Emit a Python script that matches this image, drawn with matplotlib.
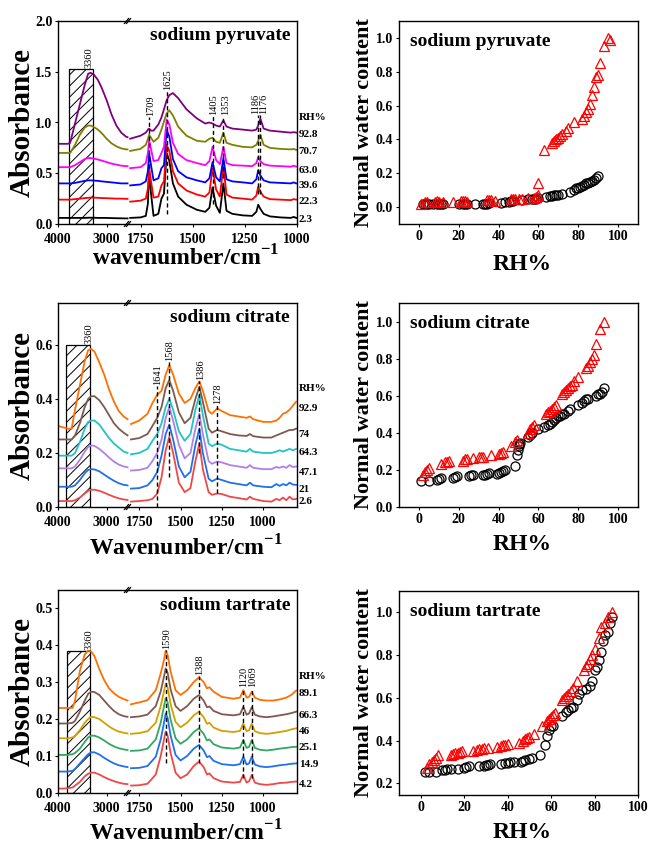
import numpy as np
import matplotlib.pyplot as plt
from matplotlib.patches import Rectangle
from matplotlib.ticker import FormatStrFormatter

plt.rcParams['font.family'] = ['Liberation Serif', 'DejaVu Serif']
plt.rcParams['font.weight'] = 'bold'
plt.rcParams['mathtext.fontset'] = 'custom'
plt.rcParams['mathtext.rm'] = 'Liberation Serif:bold'
plt.rcParams['mathtext.bf'] = 'Liberation Serif:bold'
plt.rcParams['hatch.linewidth'] = 0.7

W, H = 649, 847

# ---------------- sodium pyruvate spectra ----------------
pyr_rh = ['2.3', '22.3', '39.6', '63.0', '70.7', '92.8']
pyr_colors = ['#000000', '#ff0000', '#0000ff', '#ff00ff', '#808000', '#800080']
pyr_wn_left = [4000, 3900, 3800, 3750, 3650, 3550, 3450, 3380, 3330, 3260, 3180, 3100, 3000, 2900, 2800, 2700, 2600, 2570]
pyr_abs_left = [
    [0.06, 0.06, 0.06, 0.06, 0.06, 0.06, 0.06, 0.062, 0.062, 0.062, 0.06, 0.06, 0.06, 0.058, 0.057, 0.056, 0.055, 0.055],
    [0.24, 0.24, 0.24, 0.24, 0.245, 0.25, 0.255, 0.258, 0.26, 0.26, 0.258, 0.256, 0.254, 0.252, 0.25, 0.25, 0.248, 0.248],
    [0.40, 0.40, 0.40, 0.40, 0.405, 0.415, 0.425, 0.43, 0.43, 0.428, 0.425, 0.42, 0.415, 0.41, 0.405, 0.40, 0.40, 0.40],
    [0.56, 0.56, 0.56, 0.56, 0.58, 0.61, 0.64, 0.65, 0.65, 0.645, 0.635, 0.625, 0.61, 0.595, 0.585, 0.575, 0.57, 0.57],
    [0.70, 0.70, 0.70, 0.70, 0.78, 0.88, 0.95, 0.97, 0.97, 0.955, 0.93, 0.895, 0.84, 0.795, 0.765, 0.745, 0.735, 0.735],
    [0.79, 0.79, 0.79, 0.80, 0.99, 1.18, 1.37, 1.48, 1.49, 1.47, 1.42, 1.34, 1.22, 1.08, 0.97, 0.90, 0.86, 0.855],
]
pyr_wn_right = [1800, 1750, 1725, 1715, 1709, 1700, 1688, 1665, 1650, 1638, 1625, 1612, 1595, 1570, 1530, 1480,
                1440, 1420, 1405, 1388, 1370, 1353, 1338, 1310, 1260, 1215, 1195, 1186, 1176, 1160, 1130, 1080,
                1030, 1015, 1005, 1000]
pyr_abs_right = [
    [0.06, 0.065, 0.08, 0.20, 0.52, 0.30, 0.08, 0.10, 0.25, 0.30, 0.70, 0.62, 0.40, 0.27, 0.19, 0.14,
     0.12, 0.16, 0.36, 0.18, 0.11, 0.40, 0.13, 0.10, 0.085, 0.08, 0.12, 0.19, 0.15, 0.10, 0.075, 0.065,
     0.06, 0.07, 0.06, 0.06],
    [0.22, 0.23, 0.25, 0.35, 0.56, 0.42, 0.26, 0.27, 0.38, 0.42, 0.78, 0.72, 0.52, 0.40, 0.33, 0.29,
     0.27, 0.31, 0.55, 0.34, 0.27, 0.57, 0.29, 0.26, 0.25, 0.24, 0.28, 0.37, 0.32, 0.27, 0.245, 0.24,
     0.235, 0.245, 0.24, 0.24],
    [0.38, 0.39, 0.42, 0.52, 0.70, 0.58, 0.43, 0.45, 0.55, 0.58, 0.93, 0.86, 0.64, 0.52, 0.46, 0.43,
     0.41, 0.45, 0.61, 0.46, 0.42, 0.65, 0.44, 0.42, 0.41, 0.40, 0.44, 0.53, 0.48, 0.43, 0.41, 0.405,
     0.40, 0.41, 0.40, 0.40],
    [0.55, 0.56, 0.60, 0.70, 0.83, 0.74, 0.62, 0.63, 0.70, 0.76, 1.03, 0.98, 0.80, 0.69, 0.63, 0.60,
     0.58, 0.62, 0.76, 0.63, 0.59, 0.76, 0.60, 0.58, 0.575, 0.57, 0.60, 0.66, 0.62, 0.59, 0.575, 0.57,
     0.565, 0.575, 0.565, 0.565],
    [0.72, 0.74, 0.78, 0.84, 0.88, 0.85, 0.81, 0.85, 0.93, 1.01, 1.09, 1.12, 1.07, 0.96, 0.87, 0.82,
     0.81, 0.84, 0.85, 0.81, 0.80, 0.90, 0.80, 0.78, 0.76, 0.755, 0.78, 0.82, 0.88, 0.78, 0.75, 0.74,
     0.735, 0.74, 0.73, 0.73],
    [0.84, 0.87, 0.90, 0.93, 0.94, 0.92, 0.92, 0.98, 1.05, 1.13, 1.22, 1.27, 1.29, 1.24, 1.13, 1.04,
     0.99, 1.00, 0.99, 0.97, 0.96, 1.02, 0.96, 0.94, 0.93, 0.92, 0.93, 0.97, 1.04, 0.94, 0.92, 0.91,
     0.90, 0.905, 0.90, 0.90],
]
pyr_rh_y = [0.046, 0.22, 0.384, 0.53, 0.71, 0.877]
pyr_peaks = [1709, 1625, 1405, 1353, 1186, 1176]
pyr_peak_text_x = [1700, 1618, 1400, 1343, 1200, 1162]
pyr_peak_top = [1.06, 1.32, 1.07, 1.07, 1.08, 1.08]
pyr_peak_bottom = [0.55, 0.10, 0.20, 0.45, 0.30, 0.30]

# ---------------- sodium citrate spectra ----------------
cit_rh = ['2.6', '21', '47.1', '64.3', '74', '92.9']
cit_colors = ['#f04848', '#2070e8', '#b080e8', '#20c4c4', '#7d5a50', '#ff7000']
cit_wn_left = [4000, 3900, 3800, 3720, 3650, 3550, 3450, 3380, 3320, 3250, 3150, 3050, 2950, 2850, 2750, 2650, 2570]
cit_abs_left = [
    [0.022, 0.022, 0.022, 0.022, 0.025, 0.035, 0.05, 0.06, 0.064, 0.064, 0.06, 0.053, 0.045, 0.038, 0.032, 0.028, 0.026],
    [0.075, 0.075, 0.075, 0.075, 0.08, 0.10, 0.125, 0.137, 0.14, 0.139, 0.132, 0.12, 0.108, 0.097, 0.088, 0.082, 0.08],
    [0.143, 0.143, 0.143, 0.143, 0.15, 0.175, 0.205, 0.222, 0.228, 0.226, 0.215, 0.20, 0.183, 0.168, 0.157, 0.15, 0.147],
    [0.19, 0.19, 0.19, 0.19, 0.20, 0.24, 0.29, 0.315, 0.32, 0.32, 0.305, 0.28, 0.255, 0.235, 0.22, 0.205, 0.20],
    [0.25, 0.25, 0.25, 0.25, 0.265, 0.31, 0.37, 0.40, 0.41, 0.41, 0.395, 0.37, 0.34, 0.31, 0.29, 0.275, 0.265],
    [0.30, 0.295, 0.29, 0.29, 0.36, 0.45, 0.54, 0.58, 0.585, 0.575, 0.535, 0.49, 0.435, 0.39, 0.355, 0.335, 0.325],
]
cit_wn_right = [1800, 1750, 1700, 1670, 1641, 1615, 1590, 1568, 1545, 1510, 1475, 1440, 1410, 1386, 1365, 1330,
                1310, 1278, 1250, 1200, 1150, 1100, 1080, 1060, 1000, 950, 920, 900, 880, 860, 840, 820, 800]
cit_abs_right = [
    [0.02, 0.022, 0.025, 0.03, 0.05, 0.11, 0.21, 0.26, 0.20, 0.09, 0.055, 0.07, 0.17, 0.236, 0.14, 0.055,
     0.045, 0.05, 0.048, 0.038, 0.033, 0.028, 0.038, 0.03, 0.022, 0.02, 0.03, 0.025, 0.035, 0.025, 0.038, 0.028, 0.03],
    [0.068, 0.07, 0.08, 0.10, 0.13, 0.19, 0.27, 0.305, 0.25, 0.15, 0.11, 0.13, 0.23, 0.29, 0.20, 0.105,
     0.095, 0.105, 0.10, 0.09, 0.085, 0.08, 0.09, 0.08, 0.075, 0.073, 0.085, 0.078, 0.085, 0.08, 0.09, 0.083, 0.082],
    [0.135, 0.137, 0.145, 0.17, 0.20, 0.25, 0.33, 0.37, 0.32, 0.23, 0.18, 0.20, 0.29, 0.345, 0.27, 0.17,
     0.16, 0.168, 0.165, 0.155, 0.15, 0.145, 0.155, 0.145, 0.14, 0.14, 0.148, 0.145, 0.15, 0.145, 0.155, 0.148, 0.15],
    [0.195, 0.20, 0.215, 0.245, 0.27, 0.31, 0.37, 0.40, 0.36, 0.28, 0.245, 0.27, 0.36, 0.415, 0.34, 0.235,
     0.225, 0.235, 0.23, 0.215, 0.21, 0.205, 0.215, 0.205, 0.20, 0.20, 0.205, 0.21, 0.205, 0.21, 0.215, 0.21, 0.215],
    [0.25, 0.255, 0.27, 0.30, 0.33, 0.37, 0.44, 0.47, 0.43, 0.35, 0.31, 0.33, 0.40, 0.445, 0.39, 0.29,
     0.275, 0.285, 0.28, 0.27, 0.265, 0.263, 0.27, 0.262, 0.257, 0.257, 0.265, 0.27, 0.275, 0.28, 0.285, 0.285, 0.29],
    [0.307, 0.32, 0.345, 0.385, 0.415, 0.43, 0.49, 0.525, 0.49, 0.42, 0.385, 0.40, 0.44, 0.465, 0.43, 0.355,
     0.345, 0.365, 0.355, 0.34, 0.335, 0.33, 0.335, 0.325, 0.315, 0.315, 0.32, 0.33, 0.345, 0.35, 0.36, 0.375, 0.39],
]
cit_rh_y = [0.02, 0.065, 0.127, 0.20, 0.27, 0.365]
cit_peaks = [1641, 1568, 1386, 1278]
cit_peak_text_x = [1636, 1563, 1381, 1273]
cit_peak_top = [0.45, 0.54, 0.47, 0.38]
cit_peak_bottom = [0.0, 0.11, 0.20, 0.05]

# ---------------- sodium tartrate spectra ----------------
tar_rh = ['4.2', '14.9', '25.1', '46', '66.3', '89.1']
tar_colors = ['#f04848', '#2070f0', '#30a860', '#d4a000', '#805850', '#ff7000']
tar_wn_left = [4000, 3900, 3800, 3700, 3650, 3550, 3450, 3380, 3320, 3250, 3150, 3050, 2950, 2850, 2750, 2650, 2570]
tar_abs_left = [
    [0.012, 0.012, 0.013, 0.015, 0.02, 0.03, 0.045, 0.052, 0.055, 0.055, 0.05, 0.043, 0.037, 0.032, 0.028, 0.025, 0.024],
    [0.058, 0.058, 0.058, 0.06, 0.065, 0.08, 0.095, 0.105, 0.11, 0.11, 0.104, 0.095, 0.087, 0.08, 0.075, 0.072, 0.07],
    [0.103, 0.103, 0.103, 0.105, 0.108, 0.12, 0.138, 0.15, 0.155, 0.155, 0.15, 0.142, 0.133, 0.126, 0.121, 0.118, 0.116],
    [0.148, 0.148, 0.148, 0.15, 0.155, 0.17, 0.19, 0.20, 0.206, 0.205, 0.20, 0.19, 0.18, 0.172, 0.166, 0.163, 0.161],
    [0.188, 0.188, 0.188, 0.19, 0.195, 0.22, 0.25, 0.268, 0.274, 0.273, 0.265, 0.25, 0.235, 0.222, 0.213, 0.208, 0.206],
    [0.23, 0.23, 0.23, 0.23, 0.25, 0.33, 0.375, 0.385, 0.383, 0.37, 0.335, 0.305, 0.283, 0.27, 0.26, 0.254, 0.25],
]
tar_wn_right = [1800, 1750, 1700, 1650, 1620, 1600, 1590, 1578, 1560, 1530, 1500, 1460, 1420, 1388, 1360, 1340,
                1325, 1300, 1250, 1180, 1140, 1120, 1100, 1085, 1069, 1050, 1020, 980, 940, 900, 860, 830, 800]
tar_abs_right = [
    [0.02, 0.021, 0.025, 0.05, 0.10, 0.145, 0.166, 0.155, 0.108, 0.055, 0.04, 0.05, 0.073, 0.085, 0.07, 0.05,
     0.053, 0.04, 0.031, 0.028, 0.03, 0.049, 0.028, 0.032, 0.049, 0.028, 0.024, 0.022, 0.024, 0.027, 0.028, 0.03, 0.031],
    [0.067, 0.068, 0.073, 0.098, 0.145, 0.19, 0.215, 0.203, 0.155, 0.103, 0.088, 0.10, 0.12, 0.13, 0.115, 0.097,
     0.10, 0.087, 0.078, 0.075, 0.078, 0.098, 0.077, 0.08, 0.098, 0.077, 0.072, 0.07, 0.072, 0.075, 0.077, 0.079, 0.08],
    [0.114, 0.115, 0.12, 0.145, 0.19, 0.235, 0.256, 0.245, 0.198, 0.148, 0.133, 0.145, 0.165, 0.175, 0.16, 0.142,
     0.145, 0.132, 0.123, 0.12, 0.123, 0.143, 0.122, 0.125, 0.143, 0.122, 0.117, 0.115, 0.117, 0.12, 0.122, 0.124, 0.125],
    [0.16, 0.162, 0.167, 0.19, 0.235, 0.275, 0.296, 0.285, 0.24, 0.192, 0.178, 0.19, 0.21, 0.22, 0.205, 0.187,
     0.19, 0.177, 0.168, 0.165, 0.168, 0.188, 0.167, 0.17, 0.188, 0.167, 0.162, 0.16, 0.162, 0.165, 0.168, 0.172, 0.175],
    [0.205, 0.207, 0.212, 0.235, 0.275, 0.315, 0.337, 0.325, 0.28, 0.235, 0.222, 0.235, 0.255, 0.265, 0.25, 0.232,
     0.234, 0.222, 0.213, 0.21, 0.213, 0.233, 0.212, 0.215, 0.232, 0.212, 0.207, 0.205, 0.207, 0.21, 0.213, 0.216, 0.22],
    [0.24, 0.245, 0.251, 0.278, 0.323, 0.36, 0.385, 0.373, 0.328, 0.278, 0.265, 0.278, 0.30, 0.313, 0.30, 0.283,
     0.286, 0.274, 0.26, 0.255, 0.258, 0.278, 0.258, 0.26, 0.274, 0.258, 0.252, 0.25, 0.25, 0.253, 0.258, 0.265, 0.277],
]
tar_rh_y = [0.024, 0.076, 0.123, 0.166, 0.21, 0.27]
tar_peaks = [1590, 1388, 1120, 1069]
tar_peak_text_x = [1585, 1383, 1115, 1064]
tar_peak_top = [0.39, 0.32, 0.287, 0.287]
tar_peak_bottom = [0.08, 0.08, 0.04, 0.04]

# ---------------- normal water content vs RH ----------------
pyr_tri_rh = [1, 3, 4, 8, 9, 10, 12, 17, 21, 22, 23, 24, 34, 35, 36, 38, 46, 47, 48, 50, 52, 55, 58, 59, 60, 60,
              63, 67, 68, 69, 70, 71, 72, 74, 75, 78, 82, 83, 84, 85, 86, 87, 88, 89, 90, 91, 93, 95, 96]
pyr_tri_w = [0.02, 0.03, 0.03, 0.03, 0.035, 0.03, 0.03, 0.03, 0.035, 0.035, 0.035, 0.03, 0.04, 0.04, 0.04, 0.035,
             0.05, 0.05, 0.045, 0.05, 0.05, 0.055, 0.055, 0.06, 0.07, 0.14,
             0.34, 0.38, 0.39, 0.40, 0.41, 0.42, 0.43, 0.45, 0.47, 0.50, 0.52, 0.54, 0.56, 0.58, 0.61, 0.66,
             0.71, 0.77, 0.78, 0.85, 0.95, 1.0, 0.99]
pyr_cir_rh = [2, 3, 4, 5, 7, 9, 10, 11, 12, 20, 22, 23, 24, 28, 32, 33, 34, 35, 41, 43, 45, 46, 47, 52, 55, 57,
              58, 59, 60, 64, 66, 67, 68, 69, 70, 72, 76, 78, 79, 80, 81, 82, 83, 84, 85, 86, 87, 88, 89, 90]
pyr_cir_w = [0.02, 0.02, 0.02, 0.02, 0.02, 0.02, 0.02, 0.02, 0.02, 0.02, 0.02, 0.02, 0.02, 0.02, 0.02, 0.02,
             0.02, 0.025, 0.025, 0.03, 0.03, 0.035, 0.035, 0.04, 0.045, 0.05, 0.05, 0.05, 0.055, 0.06, 0.065,
             0.065, 0.07, 0.07, 0.07, 0.075, 0.09, 0.10, 0.11, 0.115, 0.12, 0.125, 0.13, 0.14, 0.145, 0.15,
             0.155, 0.16, 0.17, 0.185]

cit_tri_rh = [2, 3, 4, 5, 11, 13, 14, 15, 22, 23, 24, 27, 30, 31, 32, 36, 40, 41, 42, 46, 48, 49, 55, 56, 57,
              58, 64, 65, 66, 67, 68, 69, 72, 73, 74, 75, 76, 77, 78, 80, 84, 85, 86, 87, 88, 89, 91, 93]
cit_tri_w = [0.17, 0.19, 0.20, 0.21, 0.23, 0.24, 0.245, 0.25, 0.25, 0.26, 0.26, 0.265, 0.27, 0.27, 0.27, 0.28,
             0.285, 0.29, 0.295, 0.33, 0.35, 0.36, 0.40, 0.42, 0.43, 0.44, 0.50, 0.51, 0.52, 0.53, 0.54, 0.55,
             0.61, 0.62, 0.63, 0.64, 0.65, 0.66, 0.68, 0.70, 0.75, 0.76, 0.78, 0.80, 0.82, 0.88, 0.96, 1.0]
cit_cir_rh = [1, 5, 9, 10, 11, 17, 18, 19, 25, 26, 27, 32, 33, 34, 35, 39, 40, 41, 42, 43, 48, 49, 49.5, 50,
              50.5, 51, 55, 56, 57, 60, 63, 65, 66, 67, 68, 69, 70, 71, 72, 73, 75, 76, 80, 82, 83, 84, 85, 89,
              90, 91, 92, 93]
cit_cir_w = [0.14, 0.14, 0.145, 0.15, 0.155, 0.155, 0.16, 0.165, 0.165, 0.17, 0.175, 0.175, 0.175, 0.18, 0.185,
             0.18, 0.185, 0.19, 0.195, 0.20, 0.22, 0.28, 0.31, 0.33, 0.34, 0.345, 0.38, 0.39, 0.40, 0.42, 0.43,
             0.44, 0.45, 0.46, 0.47, 0.48, 0.49, 0.49, 0.50, 0.50, 0.52, 0.53, 0.55, 0.56, 0.57, 0.58, 0.58,
             0.60, 0.61, 0.61, 0.62, 0.64]

tar_tri_rh = [3, 4, 5, 6, 7, 8, 14, 15, 16, 17, 18, 19, 24, 26, 27, 28, 29, 31, 35, 37, 38, 39, 40, 45, 47, 48,
              49, 50, 52, 56, 58, 59, 60, 61, 62, 65, 66, 67, 68, 69, 70, 72, 75, 76, 77, 78, 79, 80, 82, 83,
              85, 86, 88]
tar_tri_w = [0.27, 0.29, 0.30, 0.31, 0.32, 0.33, 0.33, 0.335, 0.34, 0.34, 0.345, 0.35, 0.35, 0.355, 0.36, 0.36,
             0.365, 0.365, 0.37, 0.375, 0.38, 0.38, 0.385, 0.39, 0.40, 0.405, 0.41, 0.415, 0.43, 0.47, 0.49,
             0.50, 0.51, 0.52, 0.53, 0.59, 0.60, 0.61, 0.62, 0.63, 0.645, 0.68, 0.73, 0.75, 0.76, 0.78, 0.80,
             0.83, 0.88, 0.93, 0.95, 0.98, 1.0]
tar_cir_rh = [2, 4, 7, 10, 11, 12, 14, 17, 20, 21, 22, 27, 29, 30, 31, 32, 37, 39, 40, 41, 43, 46, 47, 48, 50,
              51, 55, 57, 58, 59, 60, 61, 65, 67, 68, 69, 70, 72, 73, 74, 76, 78, 79, 80, 81, 82, 83, 84, 85,
              86, 87, 88]
tar_cir_w = [0.255, 0.255, 0.255, 0.26, 0.26, 0.265, 0.265, 0.265, 0.27, 0.275, 0.28, 0.28, 0.28, 0.285, 0.285,
             0.29, 0.29, 0.295, 0.295, 0.30, 0.30, 0.30, 0.305, 0.31, 0.315, 0.32, 0.33, 0.38, 0.42, 0.45, 0.47,
             0.47, 0.515, 0.535, 0.545, 0.55, 0.555, 0.59, 0.62, 0.635, 0.64, 0.655, 0.68, 0.73, 0.745, 0.775,
             0.815, 0.865, 0.895, 0.91, 0.95, 0.98]


def rect(x0, y0, x1, y1):
    return [x0 / W, 1 - y1 / H, (x1 - x0) / W, (y1 - y0) / H]


def spectra_panel(fig, top, bot, xr_lim, ylim, yticks, wn_l, abs_l, wn_r, abs_r, colors,
                  rh, rh_y, rh_title_y, box, box_top, peaks, peak_tx, peak_top, peak_bot,
                  title, xlabel, xlabel_y):
    x0, xb, x1 = 58, 128.5, 297
    axl = fig.add_axes(rect(x0, top, xb, bot))
    axr = fig.add_axes(rect(xb, top, x1, bot))
    for vals, c in zip(abs_l, colors):
        axl.plot(wn_l, vals, color=c, lw=1.3)
    for vals, c in zip(abs_r, colors):
        axr.plot(wn_r, vals, color=c, lw=1.3)
    axl.add_patch(Rectangle((box[1], 0), box[0] - box[1], box_top, fill=False,
                            hatch='///', edgecolor='black', lw=0.9, zorder=1))
    axl.text(3360, box_top + 0.005 * ylim[1], '3360', rotation=90, ha='center', va='bottom',
             fontsize=7.5, fontweight='normal')
    axl.set_xlim(4000, 2550)
    axr.set_xlim(*xr_lim)
    for a in (axl, axr):
        a.set_ylim(*ylim)
        a.tick_params(direction='out', length=2.5, width=0.8, labelsize=10)
        a.tick_params(axis='x', pad=4)
        a.tick_params(axis='y', pad=1.5)
        for s in a.spines.values():
            s.set_linewidth(1.0)
    axl.set_xticks([4000, 3000])
    axl.set_yticks(yticks)
    axl.yaxis.set_major_formatter(FormatStrFormatter('%.1f'))
    axl.spines['right'].set_visible(False)
    axr.spines['left'].set_visible(False)
    axr.set_yticks([])
    axr.set_xticks([1750, 1500, 1250, 1000])
    for lab in axl.get_xticklabels() + axl.get_yticklabels() + axr.get_xticklabels():
        lab.set_fontweight('bold')

    # break marks
    for yy in (0, 1):
        for dx in (-0.012, 0.0):
            axr.plot([dx - 0.012, dx + 0.012], [yy - 0.012, yy + 0.012], transform=axr.transAxes,
                     color='black', lw=0.9, clip_on=False)

    for wn, tx, t, b in zip(peaks, peak_tx, peak_top, peak_bot):
        axr.plot([wn, wn], [b, t - 0.005 * ylim[1]], color='black', lw=1.0, ls=(0, (3, 2)))
        axr.text(tx, t, str(wn), rotation=90, ha='center', va='bottom', fontsize=7.5,
                 fontweight='normal')

    for lab, yy in zip(rh, rh_y):
        axr.text(1.01, yy, lab, transform=axr.get_yaxis_transform(), fontsize=8, va='center',
                 ha='left', clip_on=False)
    axr.text(1.01, rh_title_y, 'RH%', transform=axr.get_yaxis_transform(), fontsize=8,
             va='center', ha='left', clip_on=False)

    fig.text(290 / W, 1 - (top + 15) / H, title, ha='right', va='center', fontsize=14)
    fig.text(22 / W, 1 - (top + bot) / 2 / H, 'Absorbance', rotation=90, ha='center', va='center',
             fontsize=21)
    fig.text(186 / W, 1 - xlabel_y / H, xlabel, ha='center', va='center', fontsize=17)


def water_panel(fig, top, bot, xlim, ylim, yticks, tri_rh, tri_w, cir_rh, cir_w, title, xlabel_y):
    ax = fig.add_axes(rect(399, top, 638, bot))
    ax.plot(cir_rh, cir_w, 'o', mfc='none', mec='black', ms=6.5, mew=0.9)
    ax.plot(tri_rh, tri_w, '^', mfc='none', mec='red', ms=7.5, mew=0.9)
    ax.set_xlim(*xlim)
    ax.set_ylim(*ylim)
    ax.set_xticks([0, 20, 40, 60, 80, 100])
    ax.set_yticks(yticks)
    ax.yaxis.set_major_formatter(FormatStrFormatter('%.1f'))
    ax.tick_params(direction='out', length=2.5, width=0.8, labelsize=10, pad=2)
    for lab in ax.get_xticklabels() + ax.get_yticklabels():
        lab.set_fontweight('bold')
    for s in ax.spines.values():
        s.set_linewidth(1.0)
    ax.text(0.045, 0.90, title, transform=ax.transAxes, ha='left', va='center', fontsize=14)
    fig.text(364 / W, 1 - (top + bot) / 2 / H, 'Normal water content', rotation=90, ha='center',
             va='center', fontsize=16)
    fig.text(522 / W, 1 - xlabel_y / H, 'RH%', ha='center', va='center', fontsize=17)


fig = plt.figure(figsize=(W / 100, H / 100), dpi=100)

spectra_panel(fig, 21, 224, (1808, 1000), (0, 2.0), [0, 0.5, 1.0, 1.5, 2.0],
              pyr_wn_left, pyr_abs_left, pyr_wn_right, pyr_abs_right, pyr_colors,
              pyr_rh, pyr_rh_y, 1.05, (3780, 3290), 1.53,
              pyr_peaks, pyr_peak_text_x, pyr_peak_top, pyr_peak_bottom,
              'sodium pyruvate', r'wavenumber/cm$^{-1}$', 258)
spectra_panel(fig, 303, 507, (1815, 795), (0, 0.755), [0.0, 0.2, 0.4, 0.6],
              cit_wn_left, cit_abs_left, cit_wn_right, cit_abs_right, cit_colors,
              cit_rh, cit_rh_y, 0.44, (3840, 3350), 0.60,
              cit_peaks, cit_peak_text_x, cit_peak_top, cit_peak_bottom,
              'sodium citrate', r'Wavenumber/cm$^{-1}$', 548)
spectra_panel(fig, 590, 793, (1815, 795), (0, 0.549), [0.0, 0.1, 0.2, 0.3, 0.4, 0.5],
              tar_wn_left, tar_abs_left, tar_wn_right, tar_abs_right, tar_colors,
              tar_rh, tar_rh_y, 0.316, (3825, 3335), 0.385,
              tar_peaks, tar_peak_text_x, tar_peak_top, tar_peak_bottom,
              'sodium tartrate', r'Wavenumber/cm$^{-1}$', 833)

water_panel(fig, 21, 224, (-10, 110), (-0.1, 1.1), [0.0, 0.2, 0.4, 0.6, 0.8, 1.0],
            pyr_tri_rh, pyr_tri_w, pyr_cir_rh, pyr_cir_w, 'sodium pyruvate', 264)
water_panel(fig, 303, 507, (-10, 110), (0, 1.1), [0.0, 0.2, 0.4, 0.6, 0.8, 1.0],
            cit_tri_rh, cit_tri_w, cit_cir_rh, cit_cir_w, 'sodium citrate', 545)
water_panel(fig, 591, 795, (-10, 100), (0.145, 1.1), [0.2, 0.4, 0.6, 0.8, 1.0],
            tar_tri_rh, tar_tri_w, tar_cir_rh, tar_cir_w, 'sodium tartrate', 832)

fig.savefig('out.png', dpi=100)
